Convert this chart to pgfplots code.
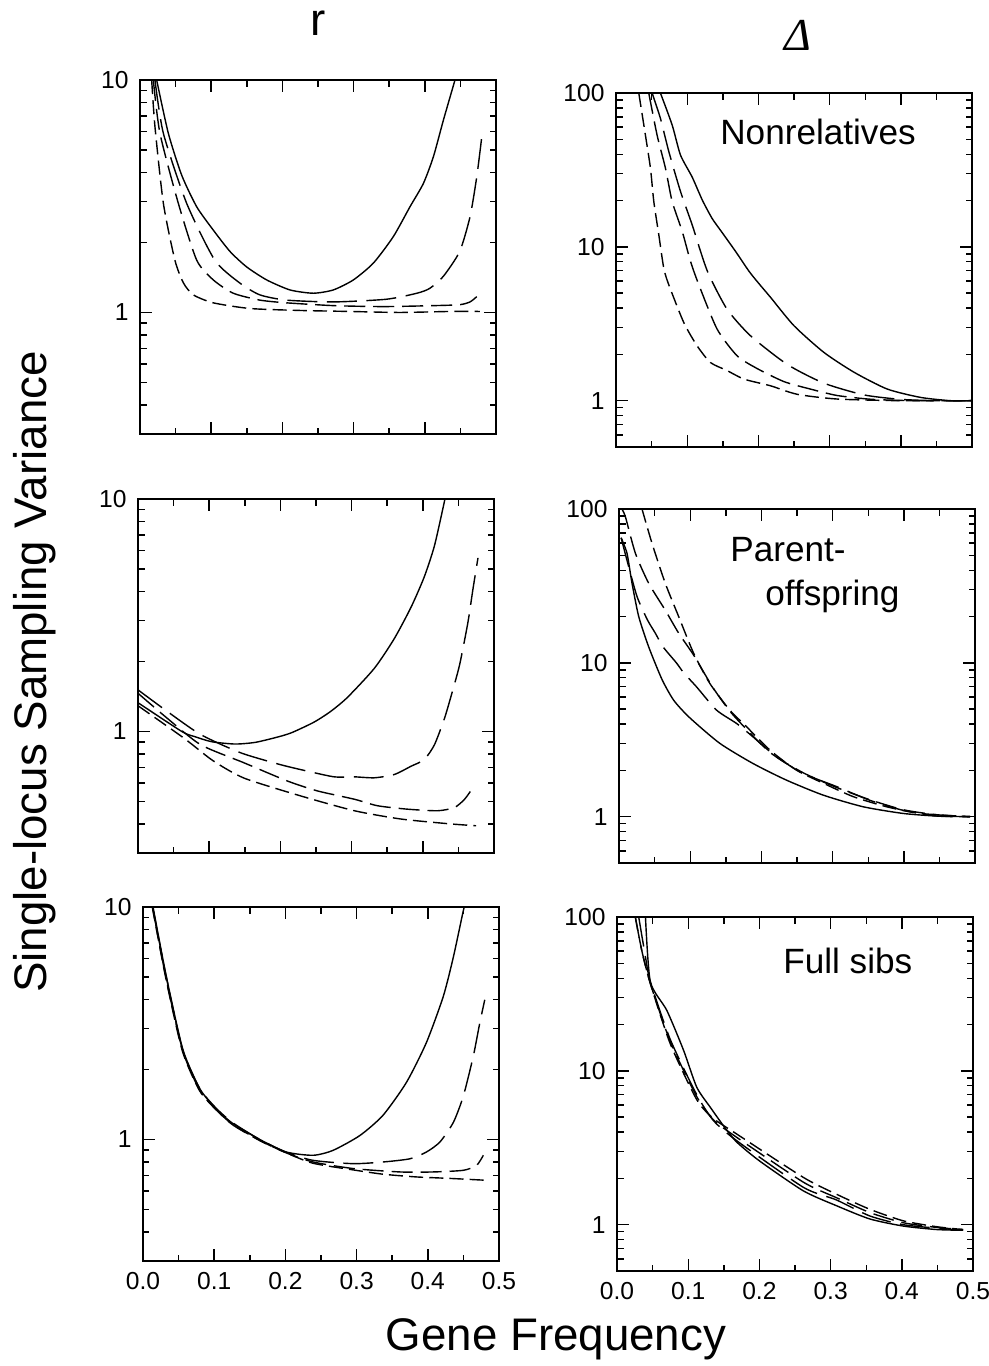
\documentclass[border=0pt]{standalone}
\usepackage{fontspec}
\setmainfont{Liberation Sans}
\newfontfamily\timesf{Liberation Serif}
\usepackage{pgfplots}
\pgfplotsset{compat=1.18}

\pgfplotsset{
  mypanel/.style={
    scale only axis, width=7.12cm, height=7.08cm, anchor=north west,
    xmin=0, xmax=0.5,
    xtick={0,0.1,0.2,0.3,0.4,0.5}, minor x tick num=1, xticklabels={},
    tick align=inside, major tick length=0.24cm, minor tick length=0.13cm,
    every tick/.style={black, line width=0.8pt},
    axis line style={line width=1pt},
    tick label style={font=\fontsize{14}{16}\selectfont},
    xticklabel style={yshift=-3pt},
    yticklabel style={xshift=-3pt},
  },
  lpan/.style={mypanel, ymin=0.3, ymax=10, ytick={1,10}, yticklabels={1,10},
    minor ytick={0.4,0.5,0.6,0.7,0.8,0.9,2,3,4,5,6,7,8,9}},
  rpan/.style={mypanel, ymin=0.5, ymax=100, ytick={1,10,100}, yticklabels={1,10,100},
    minor ytick={0.6,0.7,0.8,0.9,2,3,4,5,6,7,8,9,20,30,40,50,60,70,80,90}},
  bottomrow/.style={xticklabels={0.0,0.1,0.2,0.3,0.4,0.5}},
  sol/.style={black, line width=0.8pt, solid, smooth, tension=0.4},
  ld/.style={black, line width=0.8pt, smooth, tension=0.4, dash pattern=on 17pt off 5.5pt},
  md/.style={black, line width=0.8pt, smooth, tension=0.4, dash pattern=on 12pt off 4.5pt},
  sd/.style={black, line width=0.8pt, smooth, tension=0.4, dash pattern=on 8pt off 3.5pt},
}

\begin{document}
\begin{tikzpicture}
\path[use as bounding box] (0,0) rectangle (19.78cm,-27.32cm);

% ---------- r, nonrelatives
\begin{axis}[ymode=log, lpan, at={(2.80cm,-1.60cm)}]
\addplot[sol] coordinates {(0.0234,10) (0.0398,5.9) (0.0585,3.9) (0.0796,2.85) (0.103,2.26) (0.1264,1.83) (0.1498,1.57) (0.178,1.38) (0.2107,1.25) (0.2434,1.21) (0.2715,1.25) (0.2996,1.38) (0.3277,1.63) (0.3558,2.12) (0.3792,2.85) (0.398,3.59) (0.412,4.67) (0.426,6.7) (0.4424,10)};
\addplot[ld] coordinates {(0.021,10) (0.0328,5.9) (0.0655,2.95) (0.105,1.68) (0.140,1.34) (0.1685,1.19) (0.206,1.13) (0.272,1.11) (0.346,1.14) (0.389,1.21) (0.407,1.27) (0.426,1.43) (0.449,1.83) (0.4635,2.58) (0.473,3.84) (0.480,5.69)};
\addplot[md] coordinates {(0.0187,10) (0.028,5.9) (0.0538,2.95) (0.0796,1.68) (0.103,1.38) (0.131,1.21) (0.1685,1.13) (0.206,1.10) (0.272,1.07) (0.342,1.06) (0.412,1.07) (0.449,1.08) (0.4635,1.11) (0.473,1.17)};
\addplot[sd] coordinates {(0.0164,10) (0.021,6.3) (0.0328,2.95) (0.049,1.68) (0.061,1.34) (0.075,1.19) (0.103,1.10) (0.1545,1.04) (0.225,1.02) (0.295,1.01) (0.365,1.00) (0.435,1.01) (0.4775,1.01)};
\end{axis}

% ---------- Delta, nonrelatives
\begin{axis}[ymode=log, rpan, at={(12.32cm,-1.86cm)}]
\addplot[sol] coordinates {(0.0624,100) (0.0789,61.9) (0.0906,39.5) (0.107,28.4) (0.1211,20.2) (0.135,15.3) (0.149,12.4) (0.168,9.33) (0.187,6.92) (0.201,5.75) (0.217,4.7) (0.25,3.07) (0.292,2.06) (0.3344,1.53) (0.381,1.19) (0.428,1.05) (0.47,1.0) (0.4986,1.0)};
\addplot[ld] coordinates {(0.0507,100) (0.0624,68.4) (0.0742,41.6) (0.0906,22.9) (0.107,13.9) (0.1188,9.33) (0.1305,6.58) (0.156,3.93) (0.189,2.64) (0.2406,1.72) (0.292,1.30) (0.3485,1.09) (0.40,1.02) (0.45,1.0) (0.4986,1.0)};
\addplot[md] coordinates {(0.046,100) (0.0577,53.3) (0.0695,32.4) (0.0789,19.7) (0.093,12.6) (0.1047,8.03) (0.1164,5.66) (0.142,2.92) (0.17,1.96) (0.198,1.62) (0.236,1.33) (0.273,1.19) (0.311,1.08) (0.36,1.02) (0.42,1.0) (0.4986,1.0)};
\addplot[sd] coordinates {(0.032,100) (0.0413,53.3) (0.0484,32.4) (0.0531,19.7) (0.0601,12.0) (0.0671,7.26) (0.0742,5.66) (0.0952,3.22) (0.114,2.27) (0.1327,1.77) (0.156,1.57) (0.18,1.38) (0.217,1.25) (0.2547,1.10) (0.311,1.025) (0.40,1.0) (0.4986,1.0)};
\end{axis}

% ---------- r, parent-offspring
\begin{axis}[ymode=log, lpan, at={(2.76cm,-9.98cm)}]
\addplot[sol] coordinates {(0,1.33) (0.0615,1.0) (0.0803,0.949) (0.1038,0.903) (0.1366,0.883) (0.165,0.898) (0.1976,0.949) (0.2165,0.99) (0.247,1.096) (0.27,1.216) (0.294,1.40) (0.332,1.87) (0.360,2.51) (0.3836,3.43) (0.402,4.62) (0.4164,6.3) (0.4305,9.8) (0.431,10)};
\addplot[ld] coordinates {(0,1.51) (0.041,1.22) (0.088,0.97) (0.144,0.81) (0.2,0.72) (0.238,0.675) (0.2756,0.638) (0.304,0.638) (0.332,0.632) (0.360,0.653) (0.3836,0.709) (0.402,0.757) (0.4164,0.877) (0.4305,1.14) (0.44,1.43) (0.4516,1.93) (0.4634,2.95) (0.4704,4.09) (0.4775,5.58)};
\addplot[md] coordinates {(0,1.46) (0.041,1.14) (0.088,0.877) (0.149,0.733) (0.21,0.612) (0.252,0.555) (0.304,0.511) (0.3366,0.479) (0.379,0.463) (0.421,0.456) (0.4446,0.471) (0.4587,0.511) (0.4704,0.573)};
\addplot[sd] coordinates {(0,1.29) (0.0643,0.937) (0.105,0.75) (0.149,0.63) (0.2286,0.528) (0.304,0.456) (0.3695,0.42) (0.44,0.40) (0.475,0.393)};
\end{axis}

% ---------- Delta, parent-offspring
\begin{axis}[ymode=log, rpan, at={(12.38cm,-10.18cm)}]
\addplot[sol] coordinates {(0.003,65) (0.0112,51.6) (0.0183,32.9) (0.0277,20) (0.0417,12.7) (0.0604,7.8) (0.077,5.7) (0.0993,4.4) (0.1415,3.0) (0.188,2.22) (0.235,1.73) (0.287,1.38) (0.343,1.16) (0.399,1.05) (0.446,1.01) (0.493,1.0)};
\addplot[ld] coordinates {(0.003,65) (0.012,45) (0.0253,27) (0.04,19) (0.051,15.6) (0.0619,12.7) (0.0806,10.0) (0.091,8.6) (0.1087,7.0) (0.137,4.93) (0.165,4.04) (0.188,3.31) (0.221,2.45) (0.2587,1.91) (0.3055,1.57) (0.352,1.28) (0.399,1.10) (0.446,1.01) (0.493,1.0)};
\addplot[md] coordinates {(0.004,100) (0.009,89) (0.023,51.6) (0.0417,32.9) (0.065,22) (0.0838,15.6) (0.105,11.2) (0.132,6.9) (0.16,4.6) (0.212,2.62) (0.2587,1.93) (0.3055,1.55) (0.352,1.29) (0.399,1.11) (0.446,1.03) (0.493,1.0)};
\addplot[sd] coordinates {(0.0323,100) (0.0463,60) (0.065,32.9) (0.0838,20) (0.105,11.5) (0.1275,7.36) (0.1556,4.93) (0.179,3.85) (0.212,2.71) (0.249,2.01) (0.287,1.65) (0.329,1.35) (0.376,1.16) (0.4227,1.05) (0.493,1.0)};
\end{axis}

% ---------- r, full sibs
\begin{axis}[ymode=log, lpan, bottomrow, at={(2.86cm,-18.14cm)}]
\addplot[sol] coordinates {(0.0141,10) (0.0328,5.02) (0.056,2.44) (0.08,1.65) (0.103,1.35) (0.1265,1.17) (0.164,1.0) (0.2015,0.883) (0.239,0.855) (0.267,0.898) (0.3046,1.04) (0.337,1.27) (0.370,1.76) (0.398,2.61) (0.4217,4.12) (0.436,6.11) (0.45,9.68) (0.452,10)};
\addplot[ld] coordinates {(0.0135,10) (0.032,5.0) (0.055,2.47) (0.079,1.67) (0.102,1.37) (0.126,1.18) (0.164,1.0) (0.2015,0.88) (0.239,0.813) (0.295,0.787) (0.337,0.80) (0.375,0.826) (0.398,0.883) (0.417,0.975) (0.436,1.186) (0.45,1.54) (0.464,2.29) (0.473,3.17) (0.480,3.99)};
\addplot[md] coordinates {(0.0135,10) (0.033,4.95) (0.056,2.40) (0.08,1.62) (0.104,1.33) (0.127,1.15) (0.164,0.99) (0.2015,0.875) (0.239,0.80) (0.295,0.75) (0.361,0.725) (0.408,0.725) (0.45,0.737) (0.4686,0.774) (0.478,0.855)};
\addplot[sd] coordinates {(0.013,10) (0.032,4.95) (0.055,2.42) (0.079,1.63) (0.103,1.34) (0.126,1.16) (0.164,0.99) (0.2015,0.875) (0.239,0.79) (0.295,0.74) (0.337,0.709) (0.384,0.69) (0.431,0.68) (0.480,0.668)};
\end{axis}

% ---------- Delta, full sibs
\begin{axis}[ymode=log, rpan, bottomrow, at={(12.34cm,-18.34cm)}]
\addplot[sol] coordinates {(0.040,100) (0.0468,38) (0.07,24.7) (0.0935,13.6) (0.112,7.83) (0.131,5.8) (0.1495,4.4) (0.168,3.45) (0.2,2.6) (0.2617,1.66) (0.308,1.33) (0.355,1.09) (0.402,0.98) (0.449,0.93) (0.486,0.92)};
\addplot[ld] coordinates {(0.0305,100) (0.04,55) (0.0468,38) (0.0748,16) (0.112,7.0) (0.1355,4.75) (0.168,3.52) (0.2617,1.75) (0.308,1.45) (0.355,1.14) (0.402,1.0) (0.449,0.95) (0.486,0.92)};
\addplot[md] coordinates {(0.0257,100) (0.035,60) (0.0468,37) (0.0748,15.5) (0.112,6.8) (0.1355,4.8) (0.168,3.7) (0.2617,1.89) (0.308,1.5) (0.355,1.2) (0.402,1.03) (0.449,0.96) (0.486,0.93)};
\addplot[sd] coordinates {(0.0257,100) (0.035,60) (0.0468,37) (0.0748,15) (0.112,6.5) (0.1355,4.9) (0.168,3.89) (0.2617,2.03) (0.308,1.58) (0.355,1.26) (0.402,1.06) (0.449,0.97) (0.486,0.93)};
\end{axis}

% ---------- titles and labels
\node[anchor=base, inner sep=0, font=\fontsize{26}{30}\selectfont] at (6.36cm,-0.70cm) {r};
\node[anchor=base, inner sep=0, font=\fontsize{26}{30}\selectfont] at (15.96cm,-1.00cm) {\timesf\itshape Δ};
\node[anchor=base west, inner sep=0, font=\fontsize{20}{24}\selectfont] at (14.40cm,-2.88cm) {Nonrelatives};
\node[anchor=base west, inner sep=0, font=\fontsize{20}{24}\selectfont] at (14.60cm,-11.22cm) {Parent-};
\node[anchor=base west, inner sep=0, font=\fontsize{20}{24}\selectfont] at (15.30cm,-12.10cm) {offspring};
\node[anchor=base west, inner sep=0, font=\fontsize{20}{24}\selectfont] at (15.66cm,-19.46cm) {Full sibs};
\node[anchor=base, inner sep=0, rotate=90, font=\fontsize{26}{30}\selectfont] at (0.92cm,-13.44cm) {Single-locus Sampling Variance};
\node[anchor=base, inner sep=0, font=\fontsize{26}{30}\selectfont] at (11.12cm,-27.0cm) {Gene Frequency};
\end{tikzpicture}
\end{document}
